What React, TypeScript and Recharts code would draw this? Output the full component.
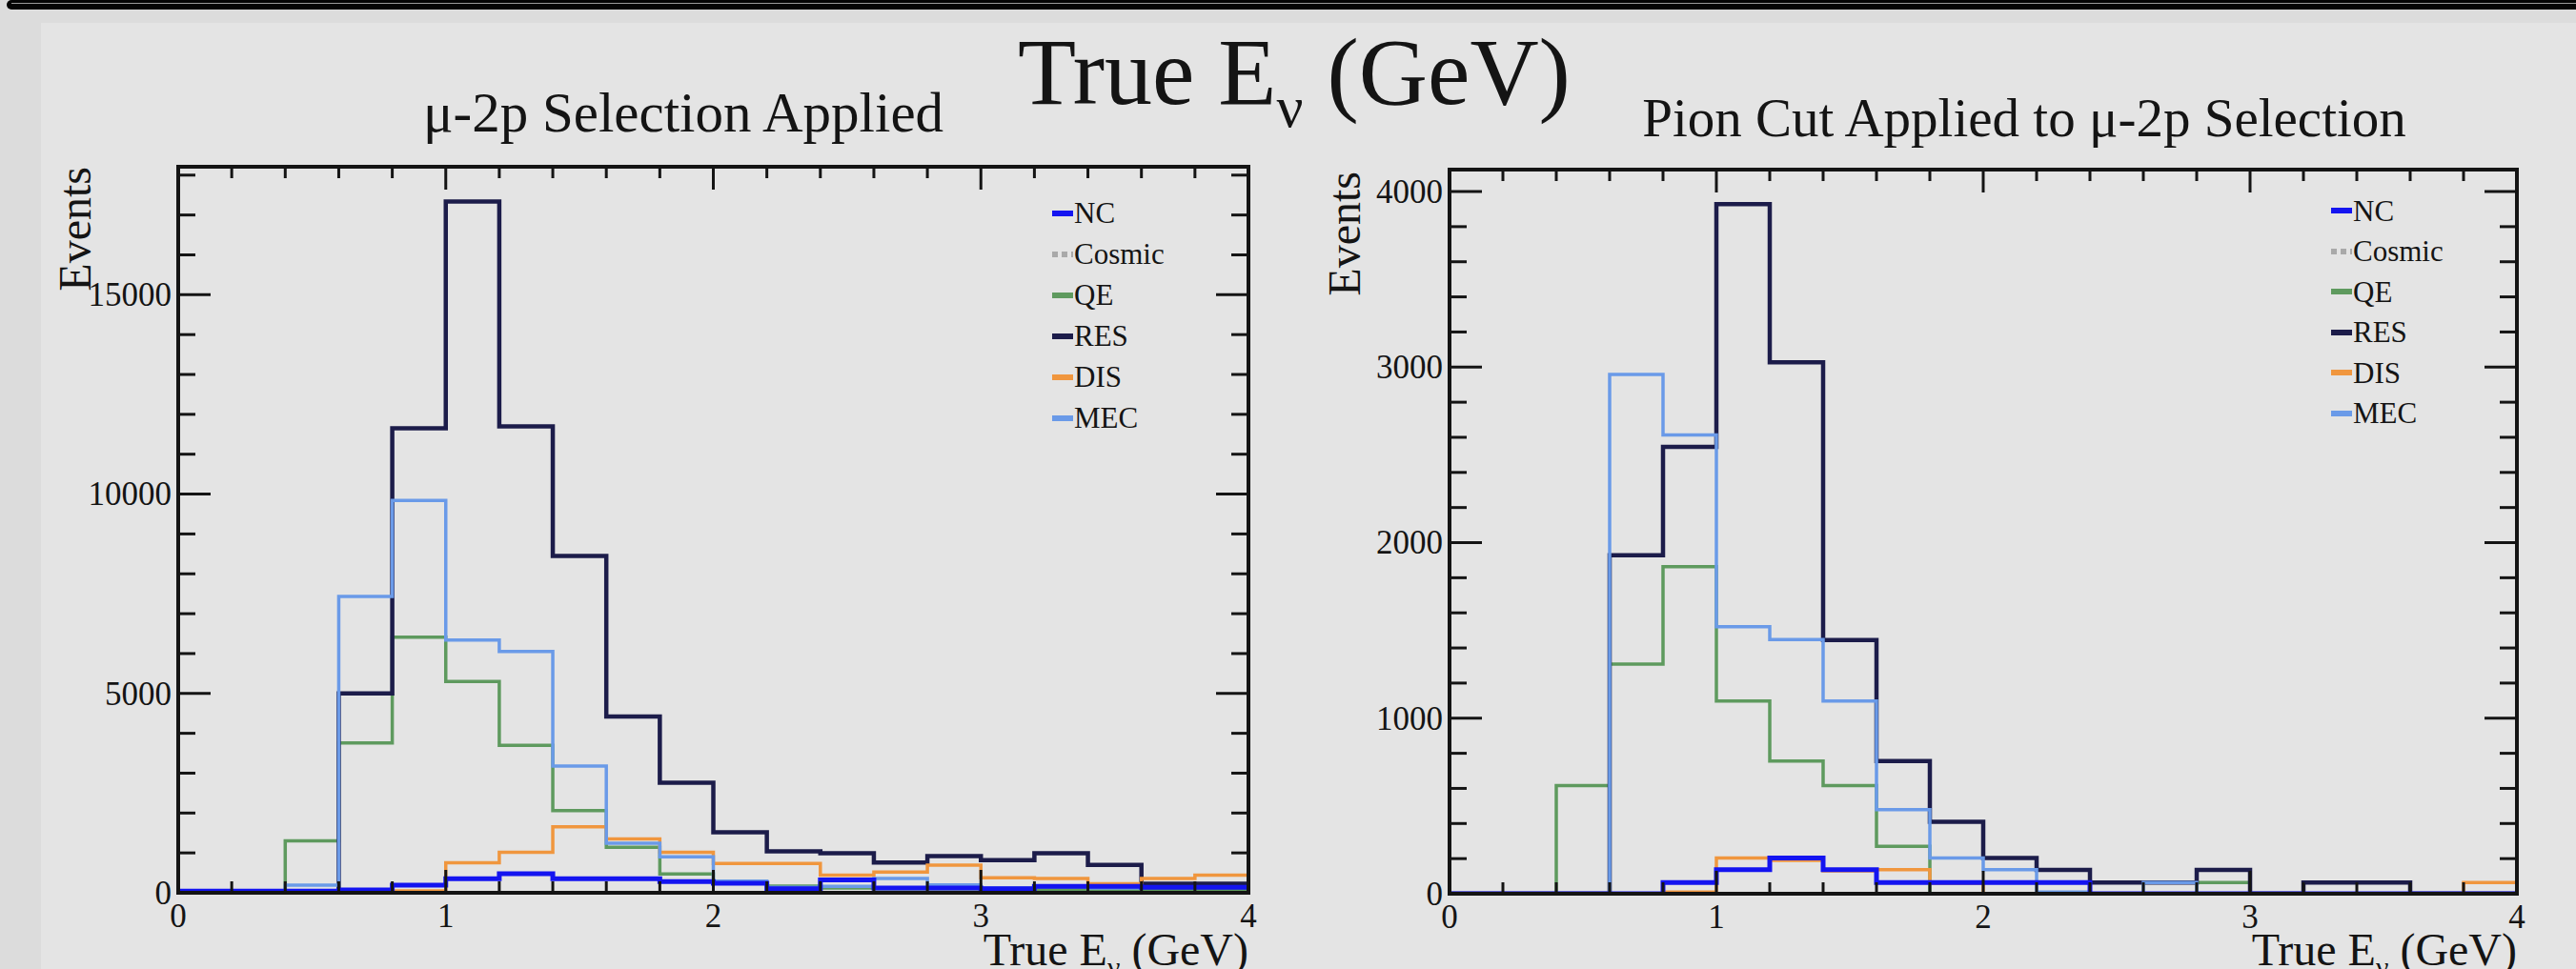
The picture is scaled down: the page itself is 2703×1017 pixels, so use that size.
import React from 'react';
import { ComposedChart, Line, XAxis, YAxis, Legend } from 'recharts';

// bin edges in true neutrino energy (GeV), 0.2 GeV bins
const binEdges = [0, 0.2, 0.4, 0.6, 0.8, 1, 1.2, 1.4, 1.6, 1.8, 2, 2.2, 2.4, 2.6, 2.8, 3, 3.2, 3.4, 3.6, 3.8, 4];

// mu-2p selection applied (one value per bin)
const selNC = [40, 40, 40, 70, 190, 350, 480, 350, 350, 280, 240, 100, 320, 120, 120, 100, 160, 160, 140, 140];
const selCosmic = [0, 0, 0, 0, 0, 0, 0, 0, 0, 0, 0, 0, 0, 0, 0, 0, 0, 0, 0, 0];
const selQE = [0, 0, 1300, 3760, 6410, 5300, 3700, 2060, 1140, 470, 240, 170, 120, 100, 100, 90, 80, 80, 70, 70];
const selRES = [0, 0, 30, 5000, 11650, 17340, 11700, 8450, 4420, 2760, 1515, 1037, 990, 760, 920, 820, 990, 700, 230, 230];
const selDIS = [0, 0, 0, 0, 50, 750, 1016, 1656, 1352, 1016, 736, 736, 440, 520, 694, 375, 360, 225, 360, 440];
const selMEC = [0, 0, 190, 7430, 9840, 6340, 6050, 3180, 1240, 900, 290, 140, 160, 360, 200, 120, 150, 120, 140, 140];

// pion cut applied to mu-2p selection
const pionNC = [0, 0, 0, 0, 64, 137, 204, 137, 64, 64, 64, 64, 0, 0, 0, 0, 0, 0, 0, 0];
const pionCosmic = [0, 0, 0, 0, 0, 0, 0, 0, 0, 0, 0, 0, 0, 0, 0, 0, 0, 0, 0, 0];
const pionQE = [0, 0, 616, 1308, 1863, 1098, 756, 616, 270, 0, 0, 0, 0, 0, 64, 0, 0, 0, 0, 0];
const pionRES = [0, 0, 0, 1928, 2546, 3928, 3027, 1445, 756, 410, 204, 136, 64, 64, 136, 0, 64, 64, 0, 0];
const pionDIS = [0, 0, 0, 0, 10, 204, 190, 130, 137, 60, 0, 0, 0, 0, 0, 0, 0, 0, 0, 64];
const pionMEC = [0, 0, 0, 2958, 2614, 1521, 1448, 1098, 479, 204, 137, 10, 0, 64, 0, 0, 0, 0, 0, 0];

// axis ticks
const xTicks = binEdges;
const selYTicks = [0, 1000, 2000, 3000, 4000, 5000, 6000, 7000, 8000, 9000, 10000, 11000, 12000, 13000, 14000, 15000, 16000, 17000, 18000];
const pionYTicks = [0, 200, 400, 600, 800, 1000, 1200, 1400, 1600, 1800, 2000, 2200, 2400, 2600, 2800, 3000, 3200, 3400, 3600, 3800, 4000];
const selYMax = 18210;
const pionYMax = 4125;

const legendOrder = ['NC', 'Cosmic', 'QE', 'RES', 'DIS', 'MEC'];

const FONT = '"Liberation Serif", "DejaVu Serif", serif';
const INK = '#141414';

// draw order: NC last so it sits on top like in the ROOT canvas
const series = [
  { key: 'Cosmic', color: '#a9a9a9', width: 3, dash: '8 6' },
  { key: 'QE', color: '#5e9a5e', width: 3.5 },
  { key: 'RES', color: '#1c1c4a', width: 4.5 },
  { key: 'DIS', color: '#f0963e', width: 3.5 },
  { key: 'MEC', color: '#6a9ae8', width: 3.5 },
  { key: 'NC', color: '#1414f0', width: 5 },
];

// step histogram rows: one row per edge, last edge repeats the last bin
const buildRows = (h: Record<string, number[]>) =>
  binEdges.map((e, i) => {
    const k = Math.min(i, binEdges.length - 2);
    const row: Record<string, number> = { e };
    Object.keys(h).forEach((n) => (row[n] = h[n][k]));
    return row;
  });

const selRows = buildRows({ NC: selNC, Cosmic: selCosmic, QE: selQE, RES: selRES, DIS: selDIS, MEC: selMEC });
const pionRows = buildRows({ NC: pionNC, Cosmic: pionCosmic, QE: pionQE, RES: pionRES, DIS: pionDIS, MEC: pionMEC });

const onStep = (v: number, step: number) => Math.abs(v / step - Math.round(v / step)) < 1e-6;

// ROOT style ticks: inward on all four sides, labels only bottom / left
const xTick = (side: 'bottom' | 'top') => (p: any) => {
  const { x, y, payload } = p;
  const major = onStep(payload.value, 1);
  const len = major ? 24 : 12;
  const dir = side === 'bottom' ? -1 : 1;
  return (
    <g>
      <line x1={x} y1={y} x2={x} y2={y + dir * len} stroke={INK} strokeWidth={3} />
      {side === 'bottom' && major ? (
        <text x={x} y={y + 36} textAnchor="middle" fontSize={35} fontFamily={FONT} fill={INK}>
          {payload.value}
        </text>
      ) : null}
    </g>
  );
};

const yTick = (side: 'left' | 'right', step: number) => (p: any) => {
  const { x, y, payload } = p;
  const major = onStep(payload.value, step);
  const len = major ? 34 : 18;
  const dir = side === 'left' ? 1 : -1;
  return (
    <g>
      <line x1={x} y1={y} x2={x + dir * len} y2={y} stroke={INK} strokeWidth={3} />
      {side === 'left' && major ? (
        <text x={x - 7} y={y} dy="0.34em" textAnchor="end" fontSize={35} fontFamily={FONT} fill={INK}>
          {payload.value}
        </text>
      ) : null}
    </g>
  );
};

const LegendBox = ({ rowH }: { rowH: number }) => (
  <div style={{ fontFamily: FONT, fontSize: 31, color: INK }}>
    {legendOrder.map((k) => {
      const s = series.find((q) => q.key === k)!;
      return (
        <div key={k} style={{ display: 'flex', alignItems: 'center', height: rowH }}>
          <svg width={22} height={10}>
            <line x1={0} y1={5} x2={22} y2={5} stroke={s.color} strokeWidth={6} strokeDasharray={s.dash ? '6 4' : undefined} />
          </svg>
          <span style={{ marginLeft: 1, lineHeight: 1 }}>{k}</span>
        </div>
      );
    })}
  </div>
);

type PanelProps = {
  rows: Record<string, number>[];
  yMax: number;
  yTicks: number[];
  yStep: number;
  w: number;
  h: number;
  frame: { l: number; t: number; r: number; b: number };
  legend: { x: number; y: number; rowH: number };
};

const Panel = ({ rows, yMax, yTicks, yStep, w, h, frame, legend }: PanelProps) => {
  const axisLine = { stroke: INK, strokeWidth: 4, strokeLinecap: 'square' as const };
  return (
    <ComposedChart
      width={w}
      height={h}
      data={rows}
      margin={{ top: frame.t - 1, bottom: 0, left: 0, right: w - frame.r - 1 }}
    >
      <XAxis
        xAxisId="b"
        dataKey="e"
        type="number"
        domain={[0, 4]}
        allowDataOverflow
        ticks={xTicks}
        interval={0}
        height={h - frame.b}
        tickLine={false}
        tickSize={0}
        tickMargin={0}
        axisLine={axisLine}
        tick={xTick('bottom')}
      />
      <XAxis
        xAxisId="t"
        dataKey="e"
        orientation="top"
        type="number"
        domain={[0, 4]}
        allowDataOverflow
        ticks={xTicks}
        interval={0}
        height={1}
        tickLine={false}
        tickSize={0}
        tickMargin={0}
        axisLine={axisLine}
        tick={xTick('top')}
      />
      <YAxis
        yAxisId="l"
        type="number"
        domain={[0, yMax]}
        allowDataOverflow
        ticks={yTicks}
        interval={0}
        width={frame.l}
        tickLine={false}
        tickSize={0}
        tickMargin={0}
        axisLine={axisLine}
        tick={yTick('left', yStep)}
      />
      <YAxis
        yAxisId="r"
        orientation="right"
        type="number"
        domain={[0, yMax]}
        allowDataOverflow
        ticks={yTicks}
        interval={0}
        width={1}
        tickLine={false}
        tickSize={0}
        tickMargin={0}
        axisLine={axisLine}
        tick={yTick('right', yStep)}
      />
      {series.map((s) => (
        <Line
          key={s.key}
          xAxisId="b"
          yAxisId="l"
          type="stepAfter"
          dataKey={s.key}
          stroke={s.color}
          strokeWidth={s.width}
          strokeDasharray={s.dash}
          dot={false}
          activeDot={false}
          isAnimationActive={false}
        />
      ))}
      <Legend
        layout="vertical"
        align="center"
        verticalAlign="middle"
        wrapperStyle={{ left: legend.x, top: legend.y, width: 'auto' }}
        content={() => <LegendBox rowH={legend.rowH} />}
      />
    </ComposedChart>
  );
};

const Nu = ({ size }: { size: number }) => (
  <>
    <tspan fontSize={size * 0.62} dy={size * 0.24}>ν</tspan>
    <tspan dy={-size * 0.24}> (GeV)</tspan>
  </>
);

const App = () => {
  return (
    <div style={{ position: 'absolute', left: 0, top: 0, width: 2703, height: 1017, background: '#dcdcdc', overflow: 'hidden' }}>
      <div style={{ position: 'absolute', left: 7, top: 0, width: 2720, height: 10, background: '#050505', borderRadius: 5 }} />
      <div style={{ position: 'absolute', left: 12, top: 3, width: 2700, height: 1, background: '#9a9a9a' }} />
      <div style={{ position: 'absolute', left: 43, top: 24, right: 0, bottom: 0, background: '#e4e4e4' }} />

      <div style={{ position: 'absolute', left: 0, top: 0 }}>
        <Panel
          rows={selRows}
          yMax={selYMax}
          yTicks={selYTicks}
          yStep={5000}
          w={1400}
          h={1017}
          frame={{ l: 187, t: 175, r: 1310, b: 937 }}
          legend={{ x: 1104, y: 202, rowH: 43 }}
        />
      </div>
      <div style={{ position: 'absolute', left: 1400, top: 0 }}>
        <Panel
          rows={pionRows}
          yMax={pionYMax}
          yTicks={pionYTicks}
          yStep={1000}
          w={1303}
          h={1017}
          frame={{ l: 121, t: 178, r: 1241, b: 938 }}
          legend={{ x: 1046, y: 200, rowH: 42.5 }}
        />
      </div>

      <svg width={2703} height={1017} style={{ position: 'absolute', left: 0, top: 0, pointerEvents: 'none' }}>
        <g fontFamily={FONT} fill={INK}>
          <text x={1358} y={109} textAnchor="middle" fontSize={100}>
            True E<Nu size={100} />
          </text>
          <text x={717} y={138} textAnchor="middle" fontSize={59}>μ-2p Selection Applied</text>
          <text x={2124} y={143} textAnchor="middle" fontSize={57}>Pion Cut Applied to μ-2p Selection</text>
          <text transform="translate(95,175) rotate(-90)" textAnchor="end" fontSize={48}>Events</text>
          <text transform="translate(1427,180) rotate(-90)" textAnchor="end" fontSize={48}>Events</text>
          <text x={1310} y={1013} textAnchor="end" fontSize={48}>
            True E<Nu size={48} />
          </text>
          <text x={2641} y={1013} textAnchor="end" fontSize={48}>
            True E<Nu size={48} />
          </text>
        </g>
      </svg>
    </div>
  );
};

export default App;
